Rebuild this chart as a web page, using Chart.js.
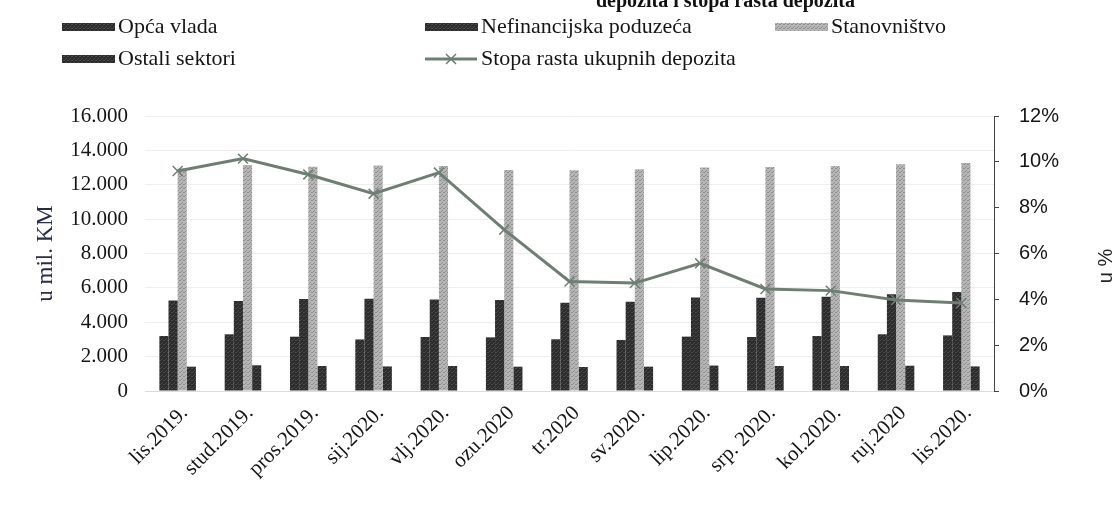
<!DOCTYPE html>
<html><head><meta charset="utf-8">
<script src="https://cdn.jsdelivr.net/npm/chart.js@4.4.1/dist/chart.umd.min.js"></script>
<style>html,body{margin:0;padding:0;background:#fff;}canvas{display:block}</style>
</head><body>
<canvas id="c" width="1120" height="526"></canvas>
<script>
const categories = ['lis.2019.','stud.2019.','pros.2019.','sij.2020.','vlj.2020.','ozu.2020','tr.2020','sv.2020.','lip.2020.','srp. 2020.','kol.2020.','ruj.2020','lis.2020.'];
const seriesNames = ['Opća vlada','Nefinancijska poduzeća','Stanovništvo','Ostali sektori','Stopa rasta ukupnih depozita'];
const opcaVlada = [3200,3300,3160,3000,3140,3120,3010,2970,3165,3140,3200,3300,3235];
const nefinancijska = [5270,5240,5350,5370,5330,5295,5140,5195,5435,5430,5490,5625,5760];
const stanovnistvo = [12950,13150,13050,13125,13090,12860,12840,12900,13000,13030,13090,13190,13265];
const ostaliSektori = [1415,1495,1455,1430,1455,1415,1395,1415,1480,1455,1455,1470,1430];
const stopaRasta = [9.60,10.14,9.45,8.61,9.53,7.04,4.78,4.71,5.57,4.45,4.38,3.97,3.84];
const titleText = 'depozita i stopa rasta depozita';
const leftAxisTitle = 'u mil. KM';
const rightAxisTitle = 'u %';
const leftTicks = {min:0, max:16000, step:2000};
const rightTicks = {min:0, max:12, step:2};

function makePattern(base, dots){
  const c = document.createElement('canvas'); c.width = 4; c.height = 4;
  const g = c.getContext('2d'); g.fillStyle = base; g.fillRect(0,0,4,4);
  g.fillStyle = dots; g.fillRect(0,0,1,1); g.fillRect(2,2,1,1); g.fillRect(3,0,1,1); g.fillRect(1,3,1,1);
  return g.createPattern(c,'repeat');
}
const ctx = document.getElementById('c').getContext('2d');
const darkFill = makePattern('#2c2c2c','#4a4a4a');
const lightFill = makePattern('#b6b6b6','#8e8e8e');
const lineColor = '#6f7e73';
const fmt = v => String(v).replace(/\B(?=(\d{3})+(?!\d))/g,'.');

const serif = "'Liberation Serif', 'Times New Roman', serif";
const sans = "'Liberation Sans', Arial, sans-serif";

const decor = {
  id:'decor',
  afterDraw(chart){
    const g = chart.ctx;
    g.save();
    g.fillStyle = '#111'; g.font = 'bold 20px ' + serif; g.textBaseline = 'alphabetic'; g.textAlign='left';
    g.fillText(titleText, 596, 7);
    const items = [[0,62,27],[1,425,27],[2,775,27],[3,62,59],[4,425,59]];
    g.font = '22px ' + serif; g.textBaseline = 'middle';
    items.forEach(([i,x,y])=>{
      const ds = chart.data.datasets[i];
      if(ds.type === 'line'){
        g.strokeStyle = lineColor; g.lineWidth = 3;
        g.beginPath(); g.moveTo(x,y); g.lineTo(x+52,y); g.stroke();
        g.lineWidth = 1.5; const cx = x+26, r = 5;
        g.beginPath(); g.moveTo(cx-r,y-r); g.lineTo(cx+r,y+r); g.moveTo(cx+r,y-r); g.lineTo(cx-r,y+r); g.stroke();
      } else {
        g.fillStyle = ds.backgroundColor; g.fillRect(x, y-4, 53, 8);
      }
      g.fillStyle = '#151515'; g.fillText(ds.label, x+56, y);
    });
    g.translate(1106, 266); g.rotate(-Math.PI/2);
    g.font = '20px ' + sans; g.textAlign='center'; g.fillStyle = '#222';
    g.fillText(rightAxisTitle, 0, 0);
    g.restore();
  }
};

new Chart(ctx, {
  data: {
    labels: categories,
    datasets: [
      {type:'bar', label:seriesNames[0], data:opcaVlada, backgroundColor:darkFill, yAxisID:'y', order:1},
      {type:'bar', label:seriesNames[1], data:nefinancijska, backgroundColor:darkFill, yAxisID:'y', order:1},
      {type:'bar', label:seriesNames[2], data:stanovnistvo, backgroundColor:lightFill, yAxisID:'y', order:1},
      {type:'bar', label:seriesNames[3], data:ostaliSektori, backgroundColor:darkFill, yAxisID:'y', order:1},
      {type:'line', label:seriesNames[4], data:stopaRasta, yAxisID:'y1', order:0,
       borderColor:lineColor, borderWidth:3, tension:0,
       pointStyle:'crossRot', pointRadius:7, pointBorderWidth:1.5, pointBorderColor:lineColor, pointBackgroundColor:lineColor}
    ]
  },
  options: {
    responsive:false, animation:false, devicePixelRatio:1,
    layout:{padding:{top:116,left:28,right:0,bottom:0}},
    datasets:{bar:{barPercentage:1, categoryPercentage:0.56}},
    plugins:{legend:{display:false}, tooltip:{enabled:false}, title:{display:false}},
    scales:{
      x:{
        grid:{display:false},
        border:{display:true,color:'#e2dada'},
        ticks:{font:{family:serif,size:21}, color:'#151515', maxRotation:45, minRotation:45, autoSkip:false, padding:2, labelOffset:7},
        afterFit(s){ s.height = 135; }
      },
      y:{
        position:'left', min:leftTicks.min, max:leftTicks.max,
        grid:{color:'#eeeeee', drawTicks:false},
        border:{display:false},
        ticks:{stepSize:leftTicks.step, font:{family:serif,size:21}, color:'#151515', padding:17, callback:v=>fmt(v)},
        title:{display:true, text:leftAxisTitle, font:{family:serif,size:23}, color:'#2a2d4a', padding:{top:4,bottom:0}},
        afterFit(s){ s.width = 117; }
      },
      y1:{
        position:'right', min:rightTicks.min, max:rightTicks.max,
        grid:{drawOnChartArea:false, color:'#444', tickLength:5},
        border:{display:true, color:'#444'},
        ticks:{stepSize:rightTicks.step, font:{family:sans,size:20}, color:'#151515', padding:20, callback:v=>v+'%'},
        afterFit(s){ s.width = 126; }
      }
    }
  },
  plugins:[decor]
});
</script>
</body></html>
